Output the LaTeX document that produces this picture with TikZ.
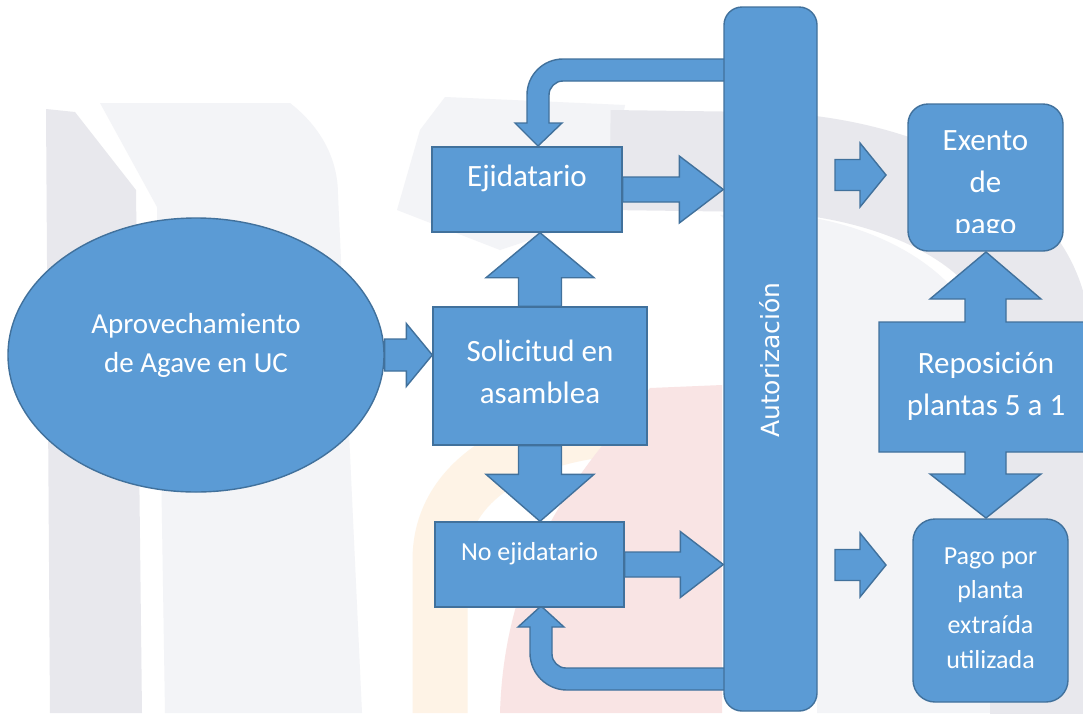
\documentclass[tikz,border=0pt]{standalone}
\usepackage{fontspec}
\setmainfont{Carlito}
\newfontfamily\autfont{DejaVu Sans}
\usetikzlibrary{shapes.geometric,calc}

\definecolor{boxblue}{HTML}{5B9BD5}
\definecolor{boxedge}{HTML}{41719C}
\definecolor{wmgray}{HTML}{E8E8ED}
\definecolor{wmlight}{HTML}{F3F4F7}
\definecolor{wmorange}{HTML}{FEF3E6}
\definecolor{wmpink}{HTML}{F9E4E4}

\pgfdeclarelayer{wm}
\pgfdeclarelayer{bg}
\pgfsetlayers{wm,bg,main}

% Block arrow from #1 to #2: shaft half width #3, head half width #4, head length #5
\newcommand\blkarrow[5]{%
  \filldraw[shp] ($(#1)!#3!90:(#2)$)
    -- ($(#2)!#5!(#1)!#3!-90:(#1)$)
    -- ($(#2)!#5!(#1)!#4!-90:(#1)$)
    -- (#2)
    -- ($(#2)!#5!(#1)!#4!90:(#1)$)
    -- ($(#2)!#5!(#1)!#3!90:(#1)$)
    -- ($(#1)!#3!-90:(#2)$) -- cycle;}

\begin{document}
\begin{tikzpicture}[x=1pt,y=-1pt,
  shp/.style={fill=boxblue,draw=boxedge,line width=1.4pt,line join=miter},
  box/.style={shp,rectangle,inner sep=0pt},
  rbox/.style={box,rounded corners=#1},
  lbl/.style={text=white,align=center,inner sep=0pt},
  bigtxt/.style={lbl,font=\fontsize{31}{42}\selectfont},
  midtxt/.style={lbl,font=\fontsize{29}{39}\selectfont},
  smalltxt/.style={lbl,font=\fontsize{26}{34.7}\selectfont},
  auttxt/.style={lbl,font=\autfont\fontsize{25}{30}\selectfont,rotate=90}]
\useasboundingbox (0,0) rectangle (1083,713);

% faint watermark shapes behind the chart
\begin{pgfonlayer}{wm}
  \fill[white] (0,0) rectangle (1083,713);
  \fill[wmlight] (100,103) -- (290,103) .. controls (322,128) and (338,160) .. (338,195)
    -- (362,713) -- (165,713) -- (157,207) -- cycle;
  \fill[wmgray] (46,109) -- (75,112) -- (136,190) -- (142,713) -- (50,713) -- cycle;
  \fill[wmlight] (445,97) -- (625,105) -- (605,215) -- (500,250) -- (397,210) -- (420,130) -- cycle;
  \fill[wmlight] (720,215) -- (760,212) .. controls (880,216) and (990,280) .. (990,380)
    -- (990,713) -- (817,713) -- (817,300) -- cycle;
  \draw[wmgray,line width=100pt] (610,160) -- (760,162) .. controls (900,165) and (1040,230) .. (1040,340) -- (1040,760);
  \draw[wmorange,line width=55pt] (440,713) -- (440,560) .. controls (440,480) and (520,440) .. (600,430);
  \fill[wmpink] (722,385) -- (650,388) .. controls (600,450) and (505,540) .. (500,713) -- (722,713) -- cycle;
\end{pgfonlayer}

% boxes
\node[shp,ellipse,minimum width=376pt,minimum height=274pt,inner sep=0pt] (ell) at (196,355) {};
\node[box,minimum width=214pt,minimum height=138pt] (sol) at (540,376) {};
\node[box,minimum width=190pt,minimum height=85pt] (eji) at (527,189.5) {};
\node[box,minimum width=189pt,minimum height=85pt] (noe) at (529.5,564.5) {};
\node[rbox=18pt,minimum width=93pt,minimum height=704pt] (aut) at (770.5,359) {};
\node[rbox=20pt,minimum width=155pt,minimum height=147pt] (exe) at (985.5,177.5) {};
\node[rbox=22pt,minimum width=155pt,minimum height=183pt] (pag) at (990.5,610.5) {};

% up-down arrow callout
\filldraw[shp] (879,322) -- (965,322) -- (965,299) -- (930,299) -- (986,252) -- (1041,299)
  -- (1006,299) -- (1006,322) -- (1093,322) -- (1093,452) -- (1006,452) -- (1006,474)
  -- (1041,474) -- (986,518) -- (930,474) -- (965,474) -- (965,452) -- (879,452) -- cycle;

% labels
\node[midtxt] (tell) at (196,345) {Aprovechamiento\\de Agave en UC};
\node[bigtxt] (tsol) at (540,371.5) {Solicitud en\\asamblea};
\node[bigtxt] (teji) at (527,178) {Ejidatario};
\node[smalltxt] (tnoe) at (529.5,554) {No ejidatario};
\node[auttxt] (taut) at (770,360) {Autorización};
\begin{scope}
  \clip (908,104) rectangle (1063,232);
  \node[bigtxt] (texe) at (985.5,185) {Exento\\de\\pago};
\end{scope}
\node[bigtxt] (trep) at (986,386) {Reposición\\plantas 5 a 1};
\node[smalltxt] (tpag) at (990.5,608) {Pago por\\planta\\extraída\\utilizada};

% connector end points
\coordinate (a1e) at (sol.west |- ell.east);
\coordinate (a2e) at (aut.west |- eji.east);
\coordinate (a3e) at (sol.north |- eji.south);
\coordinate (a4e) at (sol.south |- noe.north);
\coordinate (a5e) at (aut.west |- noe.east);
\coordinate (a6s) at (835,175);
\coordinate (a6e) at (886,175);
\coordinate (a7s) at (835,565);
\coordinate (a7e) at (886,565);

\begin{pgfonlayer}{bg}
  \blkarrow{ell.east}{a1e}{16pt}{31.5pt}{26pt}
  \blkarrow{eji.east}{a2e}{12.5pt}{33.5pt}{44pt}
  \blkarrow{sol.north}{a3e}{21.5pt}{54pt}{45pt}
  \blkarrow{sol.south}{a4e}{21.5pt}{54pt}{47pt}
  \blkarrow{noe.east}{a5e}{12.5pt}{33pt}{43pt}
  \blkarrow{a6s}{a6e}{15.5pt}{32pt}{26pt}
  \blkarrow{a7s}{a7e}{15.5pt}{32pt}{26pt}
  % bent arrow from the bar back to Ejidatario
  \filldraw[shp] (726,59) -- (563,59) .. controls (543.1,59) and (527,75.1) .. (527,95)
    -- (527,123) -- (515,123) -- (538,146) -- (562,123) -- (549,123) -- (549,95)
    .. controls (549,87.3) and (555.3,81) .. (563,81) -- (726,81) -- cycle;
  % bent arrow from the bar back to No ejidatario
  \filldraw[shp] (726,690) -- (567,690) .. controls (546.6,690) and (530,673.4) .. (530,653)
    -- (530,627) -- (518,627) -- (541,606) -- (564,627) -- (552,627) -- (552,654)
    .. controls (552,661.7) and (558.3,668) .. (566,668) -- (726,668) -- cycle;
\end{pgfonlayer}
\end{tikzpicture}
\end{document}
